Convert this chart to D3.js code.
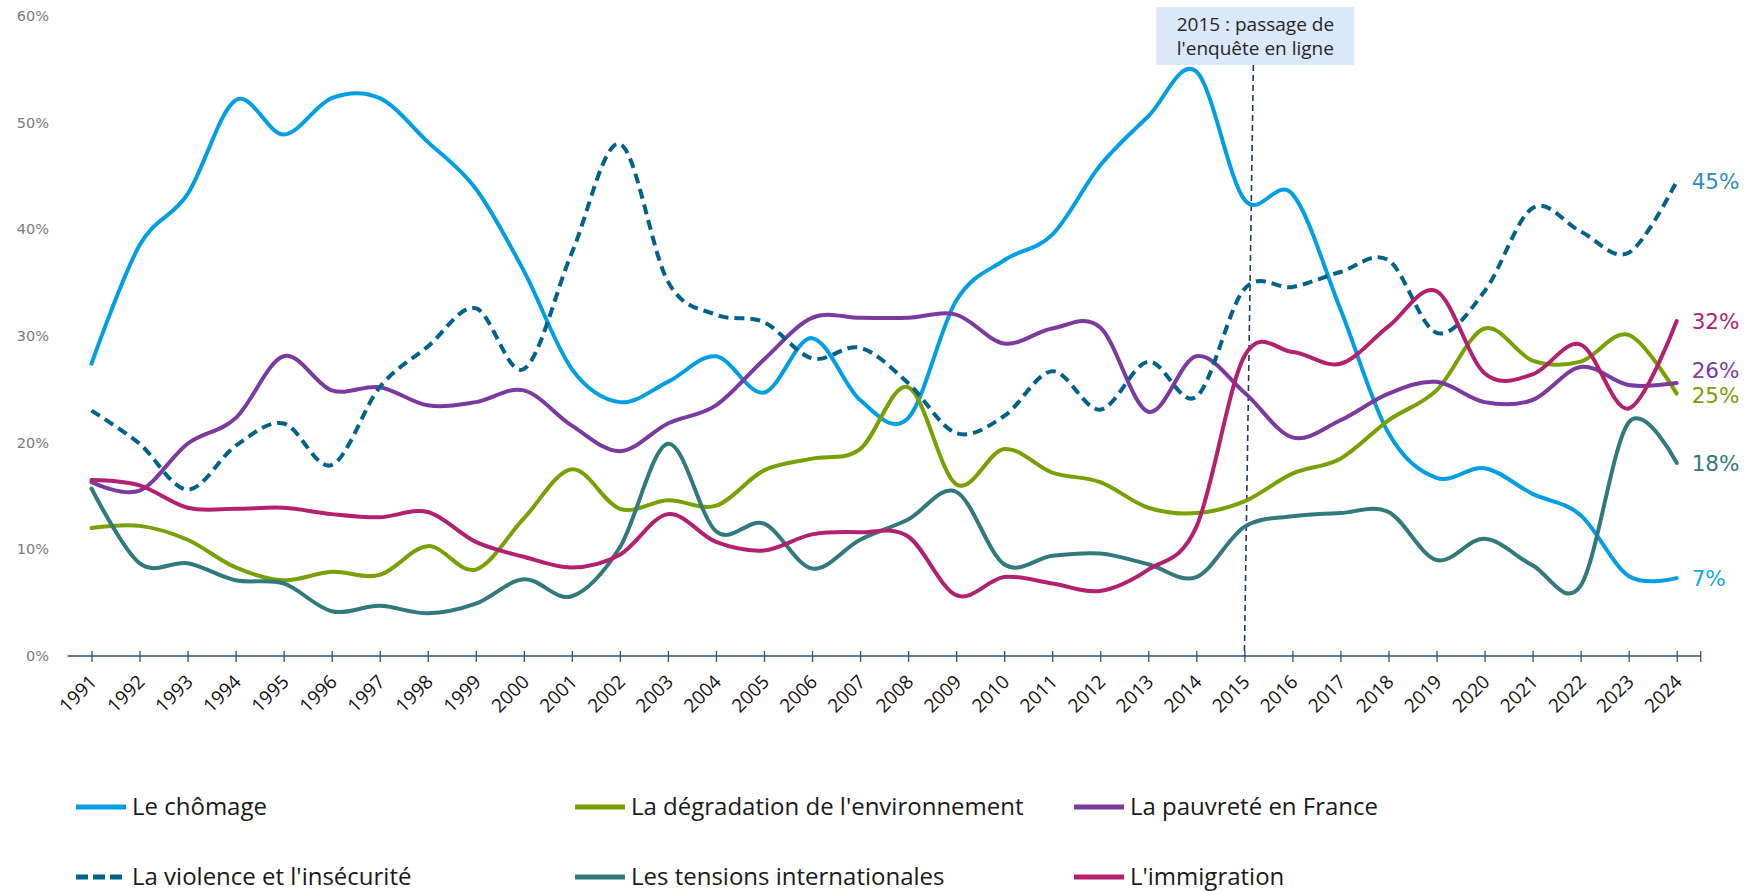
<!DOCTYPE html>
<html>
<head>
<meta charset="utf-8">
<script src="https://cdn.jsdelivr.net/npm/d3@7"></script>
<style>
  body { margin: 0; background: #fff; }
  svg { display: block; }
</style>
</head>
<body>
<div class="chart"></div>
<script>
const years = [1991, 1992, 1993, 1994, 1995, 1996, 1997, 1998, 1999, 2000,
    2001, 2002, 2003, 2004, 2005, 2006, 2007, 2008, 2009, 2010,
    2011, 2012, 2013, 2014, 2015, 2016, 2017, 2018, 2019, 2020,
    2021, 2022, 2023, 2024];

const chomage = [27.4, 38.5, 43.3, 52.1, 48.9, 52.3, 52.3, 48.2, 43.8, 36.1,
    26.9, 23.8, 25.7, 28.1, 24.7, 29.8, 24.0, 22.3, 33.3, 37.1,
    39.5, 46.0, 50.6, 54.8, 42.8, 43.3, 32.5, 20.9, 16.7, 17.6,
    15.2, 13.2, 7.5, 7.3];
const environnement = [12.0, 12.2, 10.9, 8.3, 7.1, 7.9, 7.6, 10.3, 8.1, 12.9,
    17.5, 13.8, 14.6, 14.1, 17.4, 18.5, 19.4, 25.2, 16.1, 19.4,
    17.2, 16.3, 13.9, 13.4, 14.5, 17.1, 18.5, 22.1, 24.9, 30.7,
    27.7, 27.6, 30.1, 24.6];
const pauvrete = [16.3, 15.5, 19.9, 22.3, 28.1, 24.9, 25.2, 23.5, 23.8, 24.9,
    21.6, 19.2, 21.8, 23.5, 27.8, 31.7, 31.7, 31.7, 32.0, 29.3,
    30.7, 30.8, 22.9, 28.1, 24.7, 20.5, 22.1, 24.6, 25.7, 23.8,
    24.0, 27.1, 25.4, 25.6];
const violence = [23.0, 19.9, 15.6, 19.7, 21.8, 17.9, 25.2, 29.0, 32.6, 26.9,
    37.8, 48.0, 35.1, 32.0, 31.3, 27.9, 28.9, 25.6, 20.9, 22.5,
    26.7, 23.1, 27.6, 24.3, 34.4, 34.6, 36.0, 37.1, 30.3, 34.2,
    42.0, 39.8, 37.8, 44.5];
const tensions = [15.7, 8.7, 8.7, 7.1, 6.8, 4.2, 4.7, 4.0, 4.9, 7.2,
    5.6, 10.2, 19.9, 11.7, 12.4, 8.2, 10.9, 12.8, 15.4, 8.6,
    9.4, 9.6, 8.6, 7.4, 12.1, 13.1, 13.4, 13.5, 9.0, 11.0,
    8.5, 6.6, 21.9, 18.1];
const immigration = [16.5, 16.0, 13.9, 13.8, 13.9, 13.3, 13.0, 13.5, 10.7, 9.3,
    8.3, 9.5, 13.3, 10.7, 9.9, 11.4, 11.6, 11.2, 5.7, 7.4,
    6.8, 6.1, 8.1, 12.1, 28.1, 28.5, 27.4, 30.9, 34.2, 26.5,
    26.4, 29.2, 23.2, 31.4];

const seriesNames = ['Le chômage', "La dégradation de l'environnement", 'La pauvreté en France',
    "La violence et l'insécurité", 'Les tensions internationales', "L'immigration"];
const endLabels = ['7%', '25%', '26%', '45%', '18%', '32%'];
const yTicks = [0, 10, 20, 30, 40, 50, 60];
const noteLines = ['2015 : passage de', "l'enquête en ligne"];
const noteYear = 2015;

const series = [
    {name: seriesNames[0], values: chomage, color: '#009fe3', label: endLabels[0], labelColor: '#14a6e6', dy: 0},
    {name: seriesNames[1], values: environnement, color: '#78a000', label: endLabels[1], labelColor: '#78a000', dy: 2},
    {name: seriesNames[2], values: pauvrete, color: '#7a3a9f', label: endLabels[2], labelColor: '#7a3a9f', dy: -13},
    {name: seriesNames[3], values: violence, color: '#00628a', label: endLabels[3], labelColor: '#2b8cc4', dy: 0, dashed: true},
    {name: seriesNames[4], values: tensions, color: '#31797b', label: endLabels[4], labelColor: '#31797b', dy: 0},
    {name: seriesNames[5], values: immigration, color: '#b3206f', label: endLabels[5], labelColor: '#b3206f', dy: 0}
];

const width = 1745;
const height = 891;

const svg = d3.select('.chart')
    .append('svg')
    .attr('width', width)
    .attr('height', height);

const xScale = d3.scalePoint()
    .domain(years)
    .range([91.5, 1676.7]);

const yScale = d3.scaleLinear()
    .domain([0, 60])
    .range([656, 16]);

const step = xScale.step();

// y axis: labels only
const yAxis = d3.axisLeft(yScale)
    .tickValues(yTicks)
    .tickFormat(d => d + '%')
    .tickSize(0)
    .tickPadding(3);

svg.append('g')
    .attr('class', 'axis y-axis')
    .attr('transform', 'translate(52,0)')
    .call(yAxis)
    .call(g => g.select('.domain').remove())
    .call(g => g.selectAll('text')
        .attr('fill', '#7a7a7a')
        .attr('font-family', 'DejaVu Sans')
        .attr('font-size', 14.5));

// x axis
const xAxis = d3.axisBottom(xScale).tickSize(6).tickPadding(0);

const xg = svg.append('g')
    .attr('class', 'axis x-axis')
    .attr('transform', 'translate(0,' + yScale(0) + ')')
    .call(xAxis)
    .call(g => g.select('.domain').remove());

xg.selectAll('.tick line')
    .attr('y1', -5)
    .attr('y2', 6)
    .attr('stroke', '#2f4f86')
    .attr('stroke-width', 1.3);

xg.selectAll('.tick text')
    .attr('font-family', 'Open Sans')
    .attr('font-size', 19)
    .attr('fill', '#111')
    .attr('text-anchor', 'end')
    .attr('y', 0)
    .attr('dy', 0)
    .attr('transform', 'translate(6,27) rotate(-45)');

xg.append('line')
    .attr('x1', xScale(years[0]) - step / 2)
    .attr('x2', xScale(years[years.length - 1]) + step / 2)
    .attr('stroke', '#2f4f86')
    .attr('stroke-width', 1.5);

xg.append('line')
    .attr('x1', xScale(years[years.length - 1]) + step / 2)
    .attr('x2', xScale(years[years.length - 1]) + step / 2)
    .attr('y1', -5)
    .attr('y2', 6)
    .attr('stroke', '#2f4f86')
    .attr('stroke-width', 1.3);

// annotation 2015
const nx = xScale(noteYear);
svg.append('line')
    .attr('x1', nx + 9)
    .attr('y1', 65)
    .attr('x2', nx)
    .attr('y2', yScale(0))
    .attr('stroke', '#1f3864')
    .attr('stroke-width', 1.6)
    .attr('stroke-dasharray', '6,4');

const note = svg.append('g');
note.append('rect')
    .attr('x', nx - 88)
    .attr('y', 7)
    .attr('width', 198)
    .attr('height', 58)
    .attr('fill', '#dae8f8');

note.selectAll('text')
    .data(noteLines)
    .enter()
    .append('text')
    .attr('x', nx + 11)
    .attr('y', (d, i) => 31 + i * 23.5)
    .attr('text-anchor', 'middle')
    .attr('font-family', 'Open Sans')
    .attr('font-size', 19)
    .attr('fill', '#262626')
    .text(d => d);

// lines
const line = d3.line()
    .curve(d3.curveCatmullRom.alpha(0))
    .x((d, i) => xScale(years[i]))
    .y(d => yScale(d));

svg.append('g')
    .selectAll('path')
    .data(series)
    .enter()
    .append('path')
    .attr('d', d => line(d.values))
    .attr('fill', 'none')
    .attr('stroke', d => d.color)
    .attr('stroke-width', 4)
    .attr('stroke-linejoin', 'round')
    .attr('stroke-linecap', d => d.dashed ? 'butt' : 'round')
    .attr('stroke-dasharray', d => d.dashed ? '10,6' : null);

// end labels
svg.append('g')
    .selectAll('text')
    .data(series)
    .enter()
    .append('text')
    .attr('x', xScale(years[years.length - 1]) + 15)
    .attr('y', d => yScale(d.values[d.values.length - 1]) + d.dy)
    .attr('dy', '0.36em')
    .attr('font-family', 'DejaVu Sans')
    .attr('font-size', 21.5)
    .attr('fill', d => d.labelColor)
    .text(d => d.label);

// legend
const legendCols = [76, 575, 1074];
const legendRows = [807, 877];

const legend = svg.append('g')
    .selectAll('g')
    .data(series)
    .enter()
    .append('g')
    .attr('transform', (d, i) => 'translate(' + legendCols[i % 3] + ',' + legendRows[Math.floor(i / 3)] + ')');

legend.append('line')
    .attr('x1', 0)
    .attr('x2', 50)
    .attr('stroke', d => d.color)
    .attr('stroke-width', 5)
    .attr('stroke-dasharray', d => d.dashed ? '12,5' : null);

legend.append('text')
    .attr('x', 56)
    .attr('dy', '0.35em')
    .attr('font-family', 'Open Sans')
    .attr('font-size', 24)
    .attr('fill', '#1a1a1a')
    .text(d => d.name);
</script>
</body>
</html>
